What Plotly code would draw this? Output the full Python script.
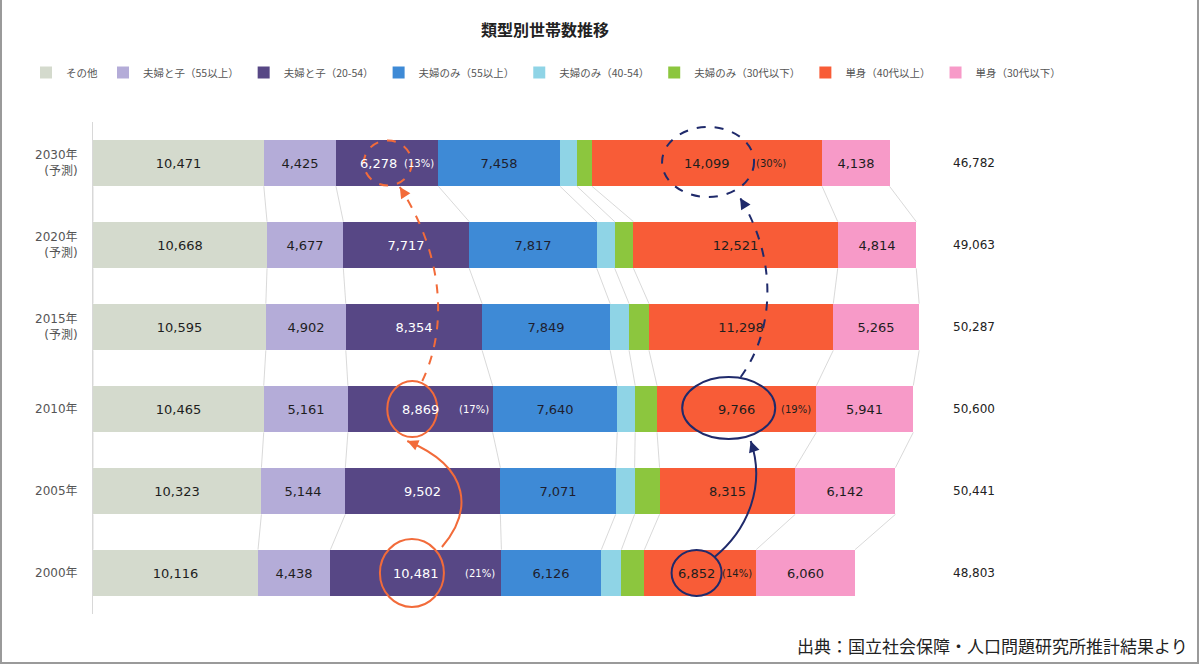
import plotly.graph_objects as go

# ---------------- data ----------------
years = ["2030年<br>(予測)", "2020年<br>(予測)", "2015年<br>(予測)", "2010年", "2005年", "2000年"]
series_names = ["その他", "夫婦と子（55以上）", "夫婦と子（20-54）", "夫婦のみ（55以上）",
                "夫婦のみ（40-54）", "夫婦のみ（30代以下）", "単身（40代以上）", "単身（30代以下）"]
sonota      = [10471, 10668, 10595, 10465, 10323, 10116]
fuufu_ko_55 = [4425, 4677, 4902, 5161, 5144, 4438]
fuufu_ko_20 = [6278, 7717, 8354, 8869, 9502, 10481]
fuufu_55    = [7458, 7817, 7849, 7640, 7071, 6126]
fuufu_40    = [1040, 1100, 1160, 1100, 1160, 1230]   # unlabeled, estimated
fuufu_30    = [920, 1150, 1220, 1340, 1530, 1410]    # unlabeled, estimated
tanshin_40  = [14099, 12521, 11298, 9766, 8315, 6852]
tanshin_30  = [4138, 4814, 5265, 5941, 6142, 6060]
totals      = [46782, 49063, 50287, 50600, 50441, 48803]
# highlighted values with share: (row, series, share label)
highlights = [(0, 2, "(13%)"), (0, 6, "(30%)"), (3, 2, "(17%)"), (3, 6, "(19%)"),
              (5, 2, "(21%)"), (5, 6, "(14%)")]

series = [sonota, fuufu_ko_55, fuufu_ko_20, fuufu_55, fuufu_40, fuufu_30, tanshin_40, tanshin_30]

# ---------------- styles ----------------
colors = ["#d4dacd", "#b4acd8", "#574785", "#3e8ad6", "#8fd4e6", "#8cc63e", "#f85c37", "#f79ac8"]
text_colors = ["#1e1e1e", "#1e1e1e", "#ffffff", "#1e1e2e", "#1e1e1e", "#1e1e1e", "#1e1e1e", "#1e1e1e"]
show_text = [True, True, True, True, False, False, True, True]

W, H = 1200, 665
ML, MR, MT, MB = 93, 90, 122, 51
PW, PH = W - ML - MR, H - MT - MB
XMAX = 62340
UPX = XMAX / PW          # data units per pixel (x)
ROWPX = PH / len(years)  # pixels per row (y)
BAR_W = 0.57
NUM_FS, PCT_FS = 13, 10
ypos = list(range(len(years)))

hl_set = {(r, s) for r, s, _ in highlights}

fig = go.Figure()

# cumulative bounds
bounds = []
for r in ypos:
    b = [0]
    for s in series:
        b.append(b[-1] + s[r])
    bounds.append(b)

# connector lines between rows
cx, cy = [], []
for r in ypos[:-1]:
    for k in range(len(series) + 1):
        cx += [bounds[r][k], bounds[r + 1][k], None]
        cy += [r + BAR_W / 2, r + 1 - BAR_W / 2, None]
fig.add_trace(go.Scatter(x=cx, y=cy, mode="lines", line=dict(color="#cfcfcf", width=0.8),
                         hoverinfo="skip", showlegend=False))

for i, (name, vals) in enumerate(zip(series_names, series)):
    txt = []
    for r, v in enumerate(vals):
        if show_text[i] and (r, i) not in hl_set:
            txt.append(f"{v:,}")
        else:
            txt.append("")
    fig.add_trace(go.Bar(
        name=name, y=ypos, x=vals, orientation="h", width=BAR_W,
        marker=dict(color=colors[i], line=dict(width=0)),
        text=txt, textposition="inside", insidetextanchor="middle", textangle=0,
        textfont=dict(size=NUM_FS, color=text_colors[i], family="DejaVu Sans"),
        hoverinfo="skip",
    ))


def num_w(s, fs=NUM_FS):
    return sum(0.318 if ch == "," else 0.636 for ch in s) * fs


def pct_w(s, fs=PCT_FS):
    w = 0
    for ch in s:
        w += 0.39 if ch in "()" else (0.95 if ch == "%" else 0.636)
    return w * fs


annotations = []
shapes = []
num_centers = {}
for r, s, pl in highlights:
    v = series[s][r]
    start = bounds[r][s]
    c = start + v / 2
    seg_px = v / UPX
    ns = f"{v:,}"
    nw, pw = num_w(ns), pct_w(pl)
    right_limit = seg_px / 2 - 6
    num_off = 0
    pct_left = nw / 2 + 24
    if pct_left + pw > right_limit:
        pct_left = right_limit - pw
        if pct_left - nw / 2 < 5:
            num_off = pct_left - 5 - nw / 2
    num_centers[(r, s)] = (c, num_off)
    annotations.append(dict(x=c, y=r, xref="x", yref="y", text=ns, showarrow=False,
                            xshift=num_off, font=dict(size=NUM_FS, color=text_colors[s], family="DejaVu Sans")))
    annotations.append(dict(x=c, y=r, xref="x", yref="y", text=pl, showarrow=False,
                            xanchor="left", xshift=pct_left,
                            font=dict(size=PCT_FS, color=text_colors[s], family="DejaVu Sans")))

# totals
for r, t in zip(ypos, totals):
    annotations.append(dict(x=54000, y=r, xref="x", yref="y", text=f"{t:,}", showarrow=False,
                            font=dict(size=12, color="#222222", family="DejaVu Sans")))

# circle decorations: (row, series, dx px, width px, height px, dy px, color, dash)
ORANGE, NAVY = "#f26b3a", "#1f2a6b"
circles = [(0, 2, 9, 48, 45, 0, ORANGE, "dash"), (0, 6, 1, 92, 70, -1, NAVY, "dash"),
           (3, 2, -8, 50, 56, 0, ORANGE, "solid"), (3, 6, -8, 93, 62, -1, NAVY, "solid"),
           (5, 2, -4, 64, 68, 0, ORANGE, "solid"), (5, 6, 0, 50, 46, 0, NAVY, "solid")]
circ_center = {}
for r, s, dx, cw, ch, dy, col, dash in circles:
    c, off = num_centers[(r, s)]
    off = off + dx
    circ_center[(r, s)] = (c, off, r, dy)
    shapes.append(dict(type="circle", xref="x", yref="y", xsizemode="pixel", ysizemode="pixel",
                       xanchor=c, yanchor=r, x0=off - cw / 2, x1=off + cw / 2,
                       y0=-dy - ch / 2, y1=-dy + ch / 2,
                       line=dict(color=col, width=2, dash=dash)))


def to_data(key, px, py):
    c, off, r, dy = circ_center[key]
    return c + (off + px) * UPX, r + (dy + py) / ROWPX


# arrows: from circle A to circle B, offsets in screen px (y down)
arrows = [((5, 2), (30, -26), (30, -35), (3, 2), (-5, 32), (65, 27), ORANGE, "solid"),
          ((3, 2), (10, -28), (25, -52), (0, 2), (12, 24), (45, 70), ORANGE, "dash"),
          ((5, 6), (18, -16), (34, -28), (3, 6), (22, 33), (15, 44), NAVY, "solid"),
          ((3, 6), (12, -31), (35, -48), (0, 6), (32, 36), (37, 60), NAVY, "dash")]
for ka, sa, c1, kb, eb, c2, col, dash in arrows:
    p0 = to_data(ka, *sa)
    p1 = to_data(ka, sa[0] + c1[0], sa[1] + c1[1])
    p3 = to_data(kb, *eb)
    p2 = to_data(kb, eb[0] + c2[0], eb[1] + c2[1])
    path = f"M {p0[0]},{p0[1]} C {p1[0]},{p1[1]} {p2[0]},{p2[1]} {p3[0]},{p3[1]}"
    shapes.append(dict(type="path", xref="x", yref="y", path=path,
                       line=dict(color=col, width=2, dash=dash)))
    # arrowhead
    dxp, dyp = -c2[0], -c2[1]
    norm = (dxp ** 2 + dyp ** 2) ** 0.5
    annotations.append(dict(x=p3[0], y=p3[1], xref="x", yref="y", text="", showarrow=True,
                            ax=-dxp / norm * 9, ay=-dyp / norm * 9, arrowhead=2, arrowsize=1.1,
                            arrowwidth=2, arrowcolor=col, standoff=0))

# source note
annotations.append(dict(xref="paper", yref="paper", x=(1190 - ML) / PW, y=-(645 - (H - MB)) / PH,
                        text="出典：国立社会保障・人口問題研究所推計結果より", showarrow=False,
                        xanchor="right", yanchor="middle",
                        font=dict(size=17, color="#222222", family="Noto Sans CJK JP")))

# frame
shapes.append(dict(type="rect", xref="paper", yref="paper", x0=(1 - ML) / PW, x1=(W - 2 - ML) / PW,
                   y0=-(MB - 2) / PH, y1=1 + (MT + 10) / PH, line=dict(color="#9a9a9a", width=2),
                   layer="below"))

fig.update_layout(
    width=W, height=H, autosize=False,
    margin=dict(l=ML, r=MR, t=MT, b=MB),
    barmode="stack", bargap=0,
    plot_bgcolor="white", paper_bgcolor="white",
    font=dict(family="DejaVu Sans, Noto Sans CJK JP", color="#444444"),
    title=dict(text="<b>類型別世帯数推移</b>", x=545 / W, xanchor="center", xref="container",
               y=1 - 30 / H, yanchor="middle", yref="container",
               font=dict(size=16, color="#222222", family="Noto Sans CJK JP")),
    legend=dict(orientation="h", x=(26 - ML) / PW, xref="paper", xanchor="left",
                y=1 + (MT - 58) / PH, yref="paper", yanchor="top", traceorder="normal",
                font=dict(size=10.5, color="#555555", family="Noto Sans CJK JP"),
                itemwidth=30, bgcolor="rgba(0,0,0,0)"),
    xaxis=dict(range=[0, XMAX], showgrid=False, zeroline=False, showticklabels=False,
               showline=False, fixedrange=True),
    yaxis=dict(range=[len(years) - 0.5, -0.5], tickvals=ypos, ticktext=years,
               showgrid=False, zeroline=False, showline=True, linecolor="#d8d8d8", linewidth=1,
               ticks="", ticklabelstandoff=12,
               tickfont=dict(size=12, color="#555555", family="DejaVu Sans, Noto Sans CJK JP"),
               fixedrange=True),
    annotations=annotations, shapes=shapes,
    showlegend=True,
)

fig.write_html("out.html")
